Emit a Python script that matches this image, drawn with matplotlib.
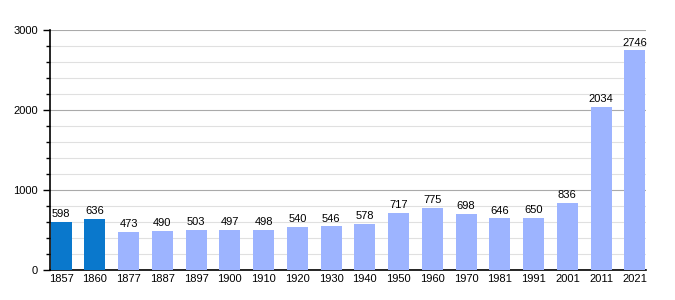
import matplotlib
matplotlib.use("Agg")
import matplotlib.pyplot as plt
from matplotlib.ticker import MultipleLocator

years = ["1857", "1860", "1877", "1887", "1897", "1900", "1910", "1920", "1930",
         "1940", "1950", "1960", "1970", "1981", "1991", "2001", "2011", "2021"]
population = [598, 636, 473, 490, 503, 497, 498, 540, 546,
              578, 717, 775, 698, 646, 650, 836, 2034, 2746]
dark_count = 2

plt.rcParams['font.family'] = ['Liberation Sans', 'DejaVu Sans']
fig = plt.figure(figsize=(6.75, 3.0), dpi=100)
ax = fig.add_axes([50/675, 0.1, 596/675, 0.8])

colors = ['#0a78cc' if i < dark_count else '#9db4ff' for i in range(len(years))]
x = list(range(len(years)))
bars = ax.bar(x, population, width=0.62, color=colors, zorder=3)
for xi, v in zip(x, population):
    ax.text(xi, v + 35, str(v), ha='center', va='bottom', fontsize=8, zorder=4)

ax.set_xlim(-0.33, len(years) - 1 + 0.33)
ax.set_ylim(0, 3000)
ax.set_xticks(x)
ax.set_xticklabels(years, fontsize=8)
ax.yaxis.set_major_locator(MultipleLocator(1000))
ax.yaxis.set_minor_locator(MultipleLocator(200))
ax.tick_params(axis='y', which='major', labelsize=8, length=5, width=1)
ax.tick_params(axis='y', which='minor', length=3, width=1)
ax.tick_params(axis='x', length=0, pad=3)
ax.grid(axis='y', which='major', color='#aaaaaa', linewidth=0.8, zorder=0)
ax.grid(axis='y', which='minor', color='#e0e0e0', linewidth=0.8, zorder=0)
for s in ['top', 'right']:
    ax.spines[s].set_visible(False)
ax.spines['left'].set_linewidth(1.2)
ax.spines['bottom'].set_linewidth(1.2)

fig.savefig('out.png', dpi=100)
